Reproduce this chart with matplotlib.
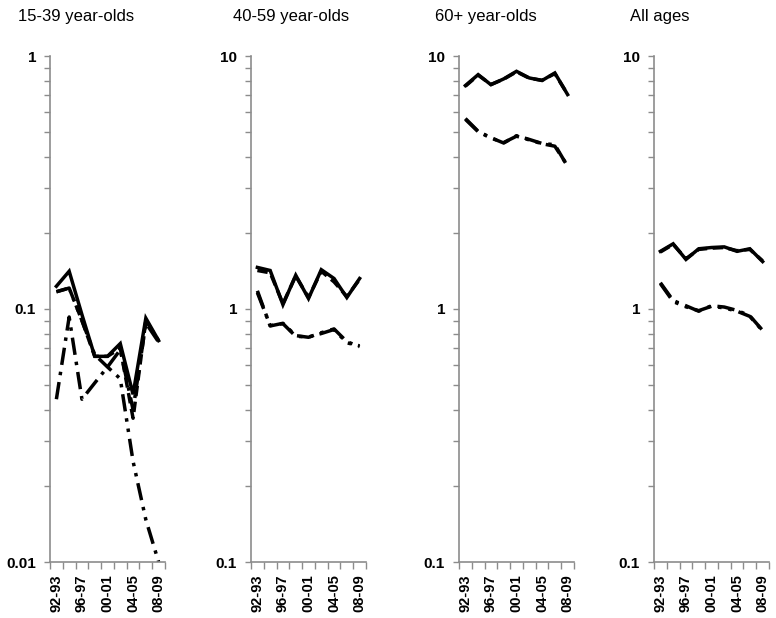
import matplotlib.pyplot as plt
from matplotlib.ticker import FixedLocator, NullFormatter

plt.rcParams['font.family'] = ['Liberation Sans', 'DejaVu Sans']

periods = ['92-93', '94-95', '96-97', '98-99', '00-01', '02-03', '04-05', '06-07', '08-09']
titles = ['15-39 year-olds', '40-59 year-olds', '60+ year-olds', 'All ages']

# four series per age group
young_a = [0.123, 0.141, 0.095, 0.065, 0.065, 0.073, 0.046, 0.092, 0.075]
young_b = [0.117, 0.121, 0.090, 0.065, 0.065, 0.070, 0.037, 0.090, 0.075]
young_c = [0.044, 0.093, 0.044, 0.051, 0.059, 0.069, 0.040, 0.088, 0.074]
young_d = [0.117, 0.121, 0.090, 0.066, 0.059, 0.053, 0.025, 0.0147, 0.0100]

middle_a = [1.46, 1.42, 1.04, 1.36, 1.10, 1.43, 1.32, 1.11, 1.32]
middle_b = [1.42, 1.39, 1.05, 1.35, 1.11, 1.41, 1.28, 1.12, 1.31]
middle_c = [1.18, 0.857, 0.878, 0.785, 0.773, 0.806, 0.834, 0.743, 0.71]
middle_d = [1.16, 0.86, 0.875, 0.78, 0.775, 0.80, 0.83, 0.735, 0.715]

old_a = [7.64, 8.44, 7.70, 8.12, 8.70, 8.19, 8.00, 8.57, 7.04]
old_b = [7.60, 8.40, 7.72, 8.10, 8.66, 8.17, 8.02, 8.52, 7.06]
old_c = [5.66, 5.04, 4.75, 4.53, 4.84, 4.68, 4.51, 4.46, 3.66]
old_d = [5.62, 5.02, 4.74, 4.55, 4.82, 4.66, 4.50, 4.40, 3.68]

all_a = [1.69, 1.81, 1.57, 1.73, 1.75, 1.76, 1.69, 1.73, 1.54]
all_b = [1.68, 1.80, 1.58, 1.72, 1.74, 1.75, 1.70, 1.72, 1.55]
all_c = [1.27, 1.08, 1.03, 0.98, 1.03, 1.018, 0.987, 0.94, 0.823]
all_d = [1.26, 1.07, 1.02, 0.985, 1.025, 1.01, 0.98, 0.935, 0.82]

groups = [
    (young_a, young_b, young_c, young_d),
    (middle_a, middle_b, middle_c, middle_d),
    (old_a, old_b, old_c, old_d),
    (all_a, all_b, all_c, all_d),
]
ranges = [(0.01, 1), (0.1, 10), (0.1, 10), (0.1, 10)]
ylabels = [['0.01', '0.1', '1'], ['0.1', '1', '10'], ['0.1', '1', '10'], ['0.1', '1', '10']]

styles = ['-', (0, (3, 1.6)), (0, (5, 2, 1, 2)), (0, (5, 2, 1, 2, 1, 2))]

W, H = 776, 618
fig = plt.figure(figsize=(W / 100, H / 100), dpi=100)

lefts = [50, 251, 459, 654]
title_x = [18, 233, 435, 630]
top_px, bottom_px, width_px = 56, 562, 115
grey = '#8c8c8c'

x = list(range(len(periods)))
for i, ax_left in enumerate(lefts):
    ax = fig.add_axes([ax_left / W, (H - bottom_px) / H, width_px / W, (bottom_px - top_px) / H])
    for series, ls in zip(groups[i], styles):
        ax.plot(x, series, color='black', lw=2.5, linestyle=ls, solid_joinstyle='miter')
    ax.set_yscale('log')
    lo, hi = ranges[i]
    ax.set_ylim(lo, hi)
    ax.set_xlim(-0.5, len(periods) - 0.5)

    ax.yaxis.set_major_locator(FixedLocator([lo, lo * 10, hi]))
    ax.set_yticklabels(ylabels[i], fontweight='bold', fontsize=11)
    minors = [m * d for d in (lo, lo * 10) for m in range(2, 10)]
    ax.yaxis.set_minor_locator(FixedLocator(minors))
    ax.yaxis.set_minor_formatter(NullFormatter())

    # tick marks at category boundaries, labels on every other category
    ax.set_xticks([b - 0.5 for b in range(len(periods) + 1)])
    ax.set_xticklabels([])
    ax.set_xticks(x[::2], periods[::2], minor=True)
    ax.tick_params(axis='x', which='minor', length=0, pad=9, labelrotation=90,
                   labelsize=10.5)
    for lbl in ax.get_xticklabels(minor=True):
        lbl.set_fontweight('bold')
    ax.tick_params(axis='x', which='major', length=5, width=1, color=grey)
    ax.tick_params(axis='y', which='both', length=4, width=1, color=grey, pad=6)

    for side in ('top', 'right'):
        ax.spines[side].set_visible(False)
    for side in ('left', 'bottom'):
        ax.spines[side].set_color(grey)
        ax.spines[side].set_linewidth(1.2)

    fig.text(title_x[i] / W, 1 - 17 / H, titles[i], fontsize=12, va='center', ha='left')

fig.savefig('out.png', dpi=100)
